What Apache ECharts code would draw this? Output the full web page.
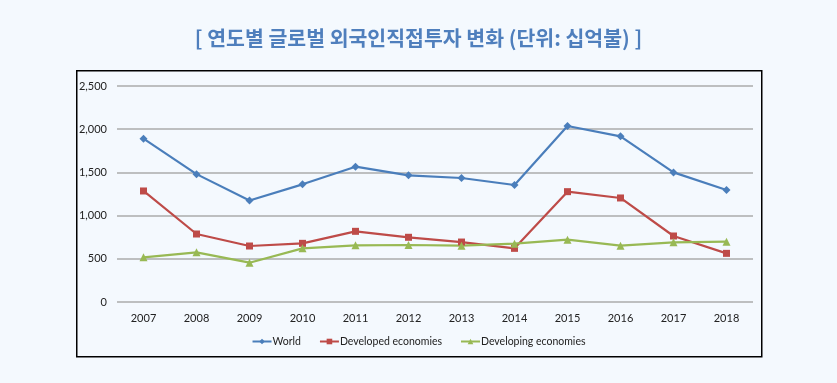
<!DOCTYPE html>
<html><head><meta charset="utf-8">
<script src="https://cdn.jsdelivr.net/npm/echarts@6/dist/echarts.min.js"></script>
<style>html,body{margin:0;padding:0;background:#f4f9fe;}#c{width:837px;height:383px;}</style>
</head><body><div id="c"></div>
<script>
const titleText = '[ 연도별 글로벌 외국인직접투자 변화 (단위: 십억불) ]';
const years = ['2007','2008','2009','2010','2011','2012','2013','2014','2015','2016','2017','2018'];
const world = [1890, 1480, 1175, 1362, 1566, 1466, 1435, 1354, 2037, 1917, 1500, 1297];
const developed = [1285, 787, 648, 679, 818, 749, 694, 621, 1277, 1204, 764, 563];
const developing = [517, 575, 455, 621, 656, 660, 652, 675, 721, 652, 691, 698];
const seriesNames = ['World', 'Developed economies', 'Developing economies'];
const yTicks = {min: 0, max: 2500, interval: 500};

const font = 'Lato, "Open Sans", sans-serif';
const chart = echarts.init(document.getElementById('c'));
chart.setOption({
  backgroundColor: '#f4f9fe',
  animation: false,
  title: {
    text: titleText, left: 'center', top: 23,
    textStyle: {fontFamily: '"Noto Sans CJK KR"', fontSize: 20.5, fontWeight: 'bold', color: '#4f7fbd'}
  },
  graphic: [{
    type: 'rect', left: 76, top: 70, z: -1,
    shape: {width: 685, height: 286},
    style: {fill: 'transparent', stroke: '#000', lineWidth: 1.5}
  }],
  legend: {
    bottom: 31, left: 'center', itemGap: 18, itemWidth: 19, itemHeight: 7,
    textStyle: {fontFamily: font, fontSize: 10.5, color: '#222', padding: [0, 0, 0, -4]},
    data: seriesNames
  },
  grid: {left: 117, right: 84, top: 86, bottom: 81},
  xAxis: {
    type: 'category', data: years, boundaryGap: true,
    axisLine: {show: false}, axisTick: {show: false},
    axisLabel: {fontFamily: font, fontSize: 11, color: '#222', margin: 11}
  },
  yAxis: {
    type: 'value', min: yTicks.min, max: yTicks.max, interval: yTicks.interval,
    axisLine: {show: false}, axisTick: {show: false},
    splitLine: {lineStyle: {color: '#ababab', width: 1.5}},
    axisLabel: {fontFamily: font, fontSize: 11, color: '#222', margin: 10,
      formatter: v => v.toLocaleString('en-US')}
  },
  series: [
    {name: seriesNames[0], type: 'line', data: world, symbol: 'diamond', symbolSize: 8,
      itemStyle: {color: '#4a7ebb'}, lineStyle: {width: 2.2, color: '#4a7ebb'}},
    {name: seriesNames[1], type: 'line', data: developed, symbol: 'rect', symbolSize: 7,
      itemStyle: {color: '#be4b48'}, lineStyle: {width: 2.2, color: '#be4b48'}},
    {name: seriesNames[2], type: 'line', data: developing, symbol: 'triangle', symbolSize: 8,
      itemStyle: {color: '#98b954'}, lineStyle: {width: 2.2, color: '#98b954'}}
  ]
});
</script></body></html>
